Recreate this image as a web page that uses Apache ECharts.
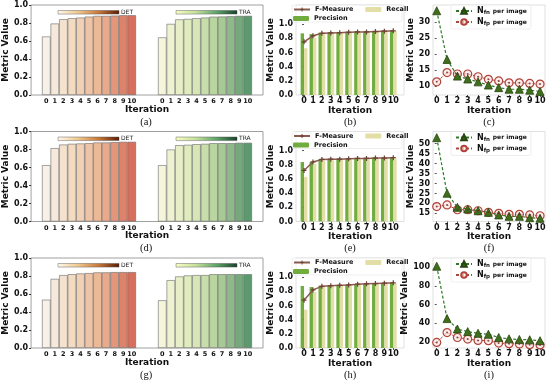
<!DOCTYPE html>
<html><head><meta charset="utf-8">
<script src="https://cdn.jsdelivr.net/npm/echarts@6/dist/echarts.min.js"></script>
<style>html,body{margin:0;padding:0;background:#fff}#c{width:550px;height:383px}</style>
</head><body><div id="c"></div>
<script>
// ---------- DATA ----------
const iterations = ['0','1','2','3','4','5','6','7','8','9','10'];
const captions = [['(a)','(b)','(c)'],['(d)','(e)','(f)'],['(g)','(h)','(i)']];
const metricTicks = ['0.0','0.2','0.4','0.6','0.8','1.0'];
// left panels: DET / TRA metric value per iteration
const detA = [0.65,0.794,0.842,0.853,0.86,0.871,0.879,0.879,0.882,0.886,0.886];
const traA = [0.64,0.79,0.84,0.845,0.853,0.86,0.87,0.872,0.875,0.879,0.879];
const detD = [0.626,0.815,0.855,0.863,0.867,0.87,0.878,0.878,0.881,0.885,0.885];
const traD = [0.626,0.80,0.848,0.852,0.859,0.863,0.87,0.87,0.87,0.874,0.874];
const detG = [0.537,0.768,0.81,0.82,0.828,0.832,0.84,0.84,0.843,0.843,0.843];
const traG = [0.53,0.754,0.795,0.806,0.81,0.81,0.82,0.82,0.82,0.82,0.82];
// middle panels: precision / recall / F-measure
const precB = [0.87,0.86,0.88,0.885,0.89,0.895,0.90,0.90,0.905,0.91,0.91];
const recB  = [0.66,0.81,0.86,0.865,0.87,0.875,0.88,0.885,0.89,0.895,0.90];
const fB    = [0.75,0.835,0.87,0.875,0.88,0.885,0.89,0.89,0.895,0.90,0.905];
const precE = [0.84,0.84,0.88,0.885,0.89,0.89,0.895,0.90,0.90,0.905,0.905];
const recE  = [0.63,0.81,0.86,0.865,0.87,0.875,0.88,0.88,0.885,0.89,0.89];
const fE    = [0.72,0.84,0.875,0.88,0.88,0.885,0.89,0.89,0.895,0.895,0.90];
const precH = [0.875,0.86,0.88,0.885,0.89,0.895,0.90,0.905,0.91,0.915,0.92];
const recH  = [0.54,0.79,0.865,0.87,0.875,0.88,0.89,0.895,0.90,0.905,0.91];
const fH    = [0.675,0.82,0.87,0.88,0.885,0.89,0.90,0.905,0.91,0.915,0.92];
// right panels: N_fn / N_fp per image
const nfnC = [33.5,18.3,13.1,12.2,11.3,10.3,9.5,9.0,9.0,8.7,8.3];
const nfpC = [11.3,14.2,13.75,13.75,12.9,12.1,11.6,11.0,11.0,10.8,10.6];
const nfnF = [53,25.1,18.0,17.2,16.3,15.5,14.2,13.5,13.5,12.8,12.5];
const nfpF = [18.4,19.2,16.8,16.8,16.3,15.5,15.0,14.5,14.5,14.2,13.8];
const nfnI = [101,45.1,34,31.2,29.4,28.4,24.9,23.5,22.8,22.5,21.5];
const nfpI = [19.7,30.2,24.9,23.2,21.8,21.5,19,18.3,18,17.3,17];
const ticksC = [10,15,20,25,30];
const ticksF = [15,20,25,30,35,40,45,50];
const ticksI = [20,40,60,80,100];

// ---------- LAYOUT / STYLE ----------
const rows = [
  {top:5,  det:detA, tra:traA, p:precB, r:recB, f:fB, nfn:nfnC, nfp:nfpC, yr:[7.2,35.3], yt:ticksC},
  {top:131.5, det:detD, tra:traD, p:precE, r:recE, f:fE, nfn:nfnF, nfp:nfpF, yr:[10.9,56.1], yt:ticksF},
  {top:258, det:detG, tra:traG, p:precH, r:recH, f:fH, nfn:nfnI, nfp:nfpI, yr:[13.7,109.8], yt:ticksI}
];
const H = 90;
const FONT = 'DejaVu Sans';
function hex(h){return [1,3,5].map(i=>parseInt(h.substr(i,2),16));}
function lerp(stops,t){
  const n=stops.length-1; const k=Math.min(n-1,Math.floor(t*n)); const u=t*n-k;
  const a=hex(stops[k]), b=hex(stops[k+1]);
  return 'rgba('+a.map((v,i)=>Math.round(v+(b[i]-v)*u)).join(',')+',0.9)';
}
const detStops=['#f7efe6','#f1d4b6','#e8a882','#d35f4b'];
const traStops=['#f4f4d6','#dce9b4','#a6ca8f','#4a8e5e'];
const xnums = iterations.map(Number);
const lab = {fontFamily:FONT,fontWeight:'bold',color:'#111'};

const grid=[], xAxis=[], yAxis=[], series=[], legend=[], graphic=[];
rows.forEach((R,ri)=>{
  const T=R.top, g0=grid.length;
  // frame for left panel
  grid.push({left:29,top:T,width:234,height:H,show:true,borderColor:'#888',borderWidth:0.8});
  xAxis.push({gridIndex:g0,type:'value',min:0,max:1,axisLine:{show:false},axisTick:{show:false},axisLabel:{show:false},splitLine:{show:false},
    name:'Iteration',nameLocation:'middle',nameGap:10,nameTextStyle:{...lab,fontSize:9}});
  yAxis.push({gridIndex:g0,type:'value',min:0,max:1,interval:0.2,axisLine:{show:false},axisTick:{show:true,length:2,lineStyle:{color:'#333'}},splitLine:{show:false},
    axisLabel:{...lab,fontSize:8,margin:3,formatter:v=>v.toFixed(1)},
    name:'Metric Value',nameLocation:'middle',nameGap:18,nameTextStyle:{...lab,fontSize:9}});
  // DET / TRA grids
  [[42,R.det,detStops],[158,R.tra,traStops]].forEach(([lft,vals,stops])=>{
    const gi=grid.length;
    grid.push({left:lft,top:T,width:94,height:H});
    xAxis.push({gridIndex:gi,type:'category',data:iterations,axisLine:{show:false},axisTick:{show:false},
      axisLabel:{...lab,fontSize:6.5,margin:3,interval:0}});
    yAxis.push({gridIndex:gi,type:'value',min:0,max:1,show:false});
    series.push({type:'bar',xAxisIndex:gi,yAxisIndex:gi,barWidth:'100%',silent:true,
      data:vals.map((v,i)=>({value:v,itemStyle:{color:lerp(stops,i/10),borderColor:'#6a6a6a',borderWidth:0.6}}))});
  });
  // colorbars
  [[58,'DET',['#fff8ec','#f0c88e','#c8783a','#5a1e05']],[176,'TRA',['#f8fcc4','#c4e09a','#5fa36a','#17432a']]].forEach(([x,t,cs])=>{
    graphic.push({type:'rect',shape:{x:x,y:T+5.5,width:61,height:3.6},
      style:{fill:new echarts.graphic.LinearGradient(0,0,1,0,cs.map((c,i)=>({offset:i/(cs.length-1),color:c}))),stroke:'#444',lineWidth:0.4}});
    graphic.push({type:'text',x:x+63,y:T+7.3,style:{text:t,font:'6px '+FONT,fill:'#222',align:'left',verticalAlign:'middle'}});
  });
  // middle panel
  const gb=grid.length;
  grid.push({left:296,top:T,width:108,height:H,show:true,borderColor:'#ccc',borderWidth:0.6});
  xAxis.push({gridIndex:gb,type:'value',min:-0.9,max:11.2,axisLine:{show:false},splitLine:{show:false},
    axisTick:{show:true,length:2,customValues:xnums},axisLabel:{...lab,fontSize:8,margin:2,customValues:xnums},
    name:'Iteration',nameLocation:'middle',nameGap:10,nameTextStyle:{...lab,fontSize:9}});
  const mt = metricTicks.map(Number);
  yAxis.push({gridIndex:gb,type:'value',min:0,max:1.27,axisLine:{show:false},splitLine:{show:false},
    axisTick:{show:true,length:2,customValues:mt},axisLabel:{...lab,fontSize:8,margin:3,customValues:mt,formatter:v=>v.toFixed(1)},
    name:'Metric Value',nameLocation:'middle',nameGap:18,nameTextStyle:{...lab,fontSize:9}});
  series.push({name:'Precision',type:'bar',xAxisIndex:gb,yAxisIndex:gb,barWidth:3.4,barGap:'0%',
    itemStyle:{color:'rgba(104,168,52,0.95)'},data:R.p.map((v,i)=>[xnums[i],v])});
  series.push({name:'Recall',type:'bar',xAxisIndex:gb,yAxisIndex:gb,barWidth:3.4,barGap:'0%',
    itemStyle:{color:'rgba(222,216,150,0.85)'},data:R.r.map((v,i)=>[xnums[i],v])});
  series.push({name:'F-Measure',type:'line',xAxisIndex:gb,yAxisIndex:gb,z:5,
    symbol:'path://M-0.25,-1h0.5v0.75h0.75v0.5h-0.75v0.75h-0.5v-0.75h-0.75v-0.5h0.75z',symbolSize:5,
    lineStyle:{color:'#8a5a4e',width:1.5},itemStyle:{color:'#6e4436'},data:R.f.map((v,i)=>[xnums[i],v])});
  graphic.push({type:'rect',shape:{x:292,y:T,width:110,height:17,r:2},style:{fill:'rgba(255,255,255,0.6)',stroke:'#ddd',lineWidth:0.5},z:1});
  legend.push({left:293,top:T+1,padding:0,itemWidth:16,itemHeight:5,itemGap:12,data:['F-Measure','Recall'],
    textStyle:{...lab,fontSize:6.5}});
  legend.push({left:293,top:T+10,padding:0,itemWidth:16,itemHeight:5,data:['Precision'],textStyle:{...lab,fontSize:6.5}});
  // right panel
  const gc=grid.length;
  grid.push({left:433,top:T,width:112,height:H,show:true,borderColor:'#ccc',borderWidth:0.6});
  xAxis.push({gridIndex:gc,type:'value',min:-0.36,max:10.48,axisLine:{show:false},splitLine:{show:false},
    axisTick:{show:true,length:2,customValues:xnums},axisLabel:{...lab,fontSize:8,margin:2,customValues:xnums},
    name:'Iteration',nameLocation:'middle',nameGap:10,nameTextStyle:{...lab,fontSize:9}});
  yAxis.push({gridIndex:gc,type:'value',min:R.yr[0],max:R.yr[1],axisLine:{show:false},splitLine:{show:false},
    axisTick:{show:true,length:2,customValues:R.yt},axisLabel:{...lab,fontSize:8,margin:3,customValues:R.yt},
    name:'Metric Value',nameLocation:'middle',nameGap:R.yt[R.yt.length-1]>=100?22:17,nameTextStyle:{...lab,fontSize:9}});
  series.push({name:'Nfn',type:'line',xAxisIndex:gc,yAxisIndex:gc,symbol:'triangle',symbolSize:8,z:4,
    lineStyle:{color:'#2f7a2a',width:1.2,type:[3,2]},itemStyle:{color:'#3f6f1c',borderColor:'#26450f',borderWidth:0.8},
    data:R.nfn.map((v,i)=>[xnums[i],v])});
  series.push({name:'Nfp',type:'line',xAxisIndex:gc,yAxisIndex:gc,symbol:'circle',symbolSize:8,z:3,
    lineStyle:{color:'#a44a3c',width:1,type:[3,2]},itemStyle:{color:'rgba(255,230,230,0.7)',borderColor:'#b2443a',borderWidth:1.2},
    data:R.nfp.map((v,i)=>[xnums[i],v])});
  series.push({name:'nfpdot',type:'scatter',xAxisIndex:gc,yAxisIndex:gc,symbolSize:2,z:4,silent:true,
    itemStyle:{color:'#6b2b20'},data:R.nfp.map((v,i)=>[xnums[i],v])});
  legend.push({left:451,top:T,orient:'vertical',itemWidth:16,itemHeight:7,itemGap:2,padding:[2,4],
    borderColor:'#ddd',borderWidth:0.5,borderRadius:2,backgroundColor:'rgba(255,255,255,0.8)',
    data:['Nfn','Nfp'],formatter:n=>n==='Nfn'?'N{s|fn} {p|per image}':'N{s|fp} {p|per image}',
    textStyle:{...lab,fontSize:8,rich:{s:{...lab,fontSize:5.5,padding:[4,0,0,0]},p:{...lab,fontSize:6}}}});
  // captions
  [146,350,489].forEach((cx,ci)=>{
    graphic.push({type:'text',x:cx,y:T+117,style:{text:captions[ri][ci],font:'10.5px "Liberation Serif"',fill:'#111',align:'center',verticalAlign:'middle'}});
  });
});

const chart = echarts.init(document.getElementById('c'),null,{renderer:'canvas'});
chart.setOption({animation:false,grid,xAxis,yAxis,series,legend,graphic});
</script></body></html>
